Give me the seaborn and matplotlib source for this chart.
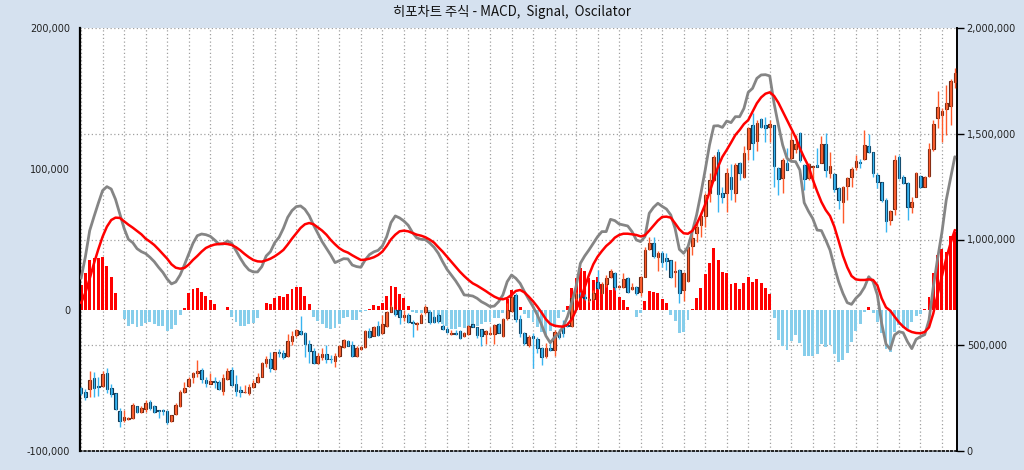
import numpy as np
import seaborn as sns
import matplotlib
matplotlib.use("Agg")
import matplotlib.pyplot as plt
from matplotlib.ticker import FuncFormatter

# candle data, thousands of won
open_k = [296, 280, 291, 343, 306, 309, 367, 296, 272, 189, 146, 150, 154, 213, 183, 197, 231, 211, 194, 191,
          187, 143, 173, 213, 279, 309, 348, 370, 383, 335, 318, 331, 324, 285, 339, 383, 315, 288, 277, 272,
          301, 324, 351, 414, 435, 386, 466, 463, 449, 521, 550, 569, 556, 506, 474, 414, 446, 458, 434, 427,
          449, 493, 521, 501, 449, 482, 490, 567, 545, 591, 559, 592, 658, 666, 666, 635, 643, 608, 600, 606,
          658, 658, 635, 643, 592, 575, 554, 558, 567, 543, 553, 599, 584, 575, 553, 551, 553, 599, 543, 627,
          660, 737, 622, 556, 499, 543, 528, 485, 450, 487, 477, 560, 588, 598, 592, 722, 740, 730, 713, 718,
          800, 745, 789, 824, 843, 777, 777, 816, 764, 774, 753, 824, 955, 982, 916, 937, 911, 903, 846, 856,
          761, 805, 969, 1029, 1068, 1111, 1218, 1281, 1415, 1218, 1221, 1294, 1221, 1360, 1297, 1426, 1540, 1464, 1568, 1540,
          1530, 1540, 1336, 1289, 1360, 1384, 1430, 1505, 1352, 1289, 1341, 1350, 1360, 1450, 1313, 1308, 1242, 1179, 1253, 1297,
          1344, 1368, 1379, 1442, 1414, 1305, 1270, 1187, 1092, 1143, 1388, 1297, 1265, 1155, 1202, 1302, 1250, 1300, 1426, 1573,
          1589, 1615, 1633, 1746]
high_k = [304, 291, 380, 372, 351, 380, 391, 317, 272, 201, 194, 160, 225, 215, 213, 241, 241, 217, 194, 197,
          194, 171, 225, 288, 326, 351, 375, 430, 391, 351, 370, 348, 335, 364, 391, 398, 359, 307, 312, 317,
          335, 370, 422, 449, 469, 469, 482, 477, 553, 569, 577, 638, 564, 525, 485, 461, 485, 501, 453, 461,
          501, 528, 525, 521, 498, 496, 572, 580, 591, 616, 643, 663, 690, 670, 669, 666, 651, 619, 611, 651,
          690, 662, 640, 651, 600, 588, 572, 572, 572, 564, 595, 599, 588, 576, 572, 587, 599, 603, 627, 698,
          748, 745, 643, 564, 548, 556, 540, 493, 509, 509, 572, 575, 619, 610, 729, 750, 752, 740, 725, 760,
          855, 800, 832, 859, 848, 785, 840, 824, 792, 780, 829, 966, 1013, 1013, 947, 947, 938, 903, 898, 859,
          846, 972, 1029, 1084, 1132, 1218, 1313, 1399, 1426, 1250, 1336, 1357, 1360, 1368, 1442, 1533, 1596, 1565, 1573, 1581,
          1565, 1541, 1344, 1384, 1431, 1510, 1494, 1510, 1357, 1360, 1347, 1431, 1489, 1502, 1415, 1313, 1250, 1253, 1297, 1341,
          1399, 1379, 1518, 1499, 1415, 1313, 1273, 1195, 1139, 1399, 1399, 1305, 1273, 1202, 1321, 1305, 1300, 1455, 1565, 1704,
          1620, 1730, 1759, 1809]
low_k = [264, 241, 253, 257, 260, 304, 272, 257, 194, 115, 138, 146, 149, 178, 178, 186, 194, 181, 157, 168,
         126, 138, 170, 209, 272, 304, 323, 351, 320, 304, 316, 296, 288, 263, 335, 307, 260, 257, 272, 264,
         296, 320, 351, 398, 375, 383, 446, 433, 446, 501, 540, 548, 446, 417, 411, 411, 430, 417, 417, 395,
         446, 485, 496, 446, 446, 477, 488, 535, 543, 543, 553, 588, 655, 640, 600, 616, 603, 540, 572, 603,
         650, 600, 605, 605, 572, 559, 548, 548, 528, 540, 548, 585, 532, 498, 506, 548, 506, 556, 540, 619,
         655, 611, 540, 501, 493, 391, 461, 406, 438, 474, 449, 530, 540, 585, 588, 715, 720, 715, 705, 712,
         765, 740, 777, 816, 761, 769, 769, 748, 761, 737, 733, 821, 950, 911, 852, 868, 856, 820, 777, 698,
         711, 800, 927, 990, 1013, 1061, 1179, 1278, 1131, 1171, 1131, 1187, 1179, 1281, 1289, 1376, 1376, 1420, 1525, 1462,
         1462, 1250, 1210, 1218, 1328, 1376, 1407, 1368, 1234, 1281, 1242, 1344, 1360, 1297, 1289, 1226, 1143, 1080, 1187, 1250,
         1329, 1336, 1376, 1407, 1297, 1242, 1179, 1037, 1068, 1116, 1286, 1262, 1092, 1124, 1199, 1242, 1247, 1297, 1420, 1525,
         1462, 1494, 1541, 1715]
close_k = [276, 253, 335, 296, 304, 365, 291, 269, 197, 142, 159, 156, 216, 183, 205, 225, 205, 186, 187, 189,
           135, 168, 216, 277, 296, 339, 367, 380, 340, 323, 329, 326, 293, 343, 380, 312, 285, 277, 280, 301,
           323, 351, 417, 435, 391, 466, 461, 446, 521, 543, 572, 553, 504, 474, 414, 449, 458, 435, 433, 449,
           496, 525, 498, 450, 485, 493, 567, 540, 584, 548, 599, 659, 682, 650, 632, 643, 611, 603, 606, 643,
           680, 611, 611, 616, 576, 565, 560, 554, 535, 556, 592, 588, 548, 545, 567, 558, 594, 559, 622, 666,
           730, 622, 559, 509, 537, 532, 485, 446, 485, 476, 564, 540, 556, 590, 722, 740, 730, 725, 718, 745,
           770, 789, 816, 852, 777, 778, 813, 753, 777, 745, 824, 950, 982, 923, 934, 895, 900, 824, 848, 745,
           840, 966, 1005, 1061, 1111, 1210, 1281, 1392, 1213, 1202, 1313, 1237, 1352, 1313, 1410, 1525, 1455, 1549, 1533, 1525,
           1544, 1347, 1284, 1376, 1330, 1470, 1450, 1376, 1284, 1355, 1347, 1344, 1450, 1329, 1347, 1237, 1187, 1250, 1289, 1332,
           1371, 1363, 1447, 1415, 1313, 1273, 1187, 1089, 1136, 1376, 1289, 1265, 1152, 1179, 1313, 1250, 1294, 1426, 1546, 1625,
           1607, 1644, 1751, 1786]

# MACD, signal and oscillator, thousands
macd_k = [22.5, 37.8, 56.3, 66.2, 75.7, 84.7, 87.5, 85.8, 78.5, 68.1, 57.9, 50.1, 47.8, 43.5, 41.4, 40, 37.4, 34.3, 30.3, 26.7,
          22, 18.5, 19.9, 24.8, 31.9, 39.5, 47.3, 52.7, 53.9, 53.4, 52.3, 49.7, 46.8, 46.8, 49, 47.3, 42.1, 36.7, 31.9, 28.4,
          27, 27, 30.8, 38.3, 41.4, 47.8, 51.6, 57.9, 65.7, 70.5, 73.3, 73.8, 71.4, 66.9, 60.3, 54.4, 48.5, 43.8, 39, 33.6,
          35, 36.4, 36.2, 31.9, 30.8, 30.3, 35.5, 39.3, 41.2, 42.3, 45.4, 52, 62, 66.7, 65.3, 63.1, 60.1, 54.9, 51.1, 50.1,
          49.9, 47.5, 44.5, 40.2, 34.3, 28.9, 24.8, 20.8, 16.1, 10.7, 10.4, 9.9, 8.3, 5.9, 4.3, 2.4, 2.8, 5.9, 10.7, 20.1,
          24.8, 22.5, 18.9, 13, 7.6, 2.4, -3.5, -10.6, -18.4, -23.2, -19.4, -16.5, -11.8, -4.7, 5.2, 16.6, 33.1, 38.3, 42.6, 47.3,
          52, 55.6, 55.6, 64.3, 63.4, 61, 60.3, 59.6, 55.6, 49.7, 48.5, 52, 68.6, 72.8, 75.7, 73.5, 71.6, 67.4, 57.9, 43,
          40.2, 44.9, 55.6, 67.4, 82.7, 99.3, 117, 130.5, 130.7, 129.5, 134, 132.9, 137.1, 137.1, 143, 154.4, 157.2, 164.3, 166.7, 166.9,
          166, 146.6, 131.2, 117, 107.6, 105.4, 105.2, 99.3, 76.1, 70, 64.8, 56.7, 56.3, 49.7, 42.5, 30.7, 20.1, 11.8, 5.2, 4,
          8.3, 11.3, 16.1, 23.6, 20.1, 10.7, -9.5, -24.1, -27.9, -17.7, -15.4, -16.1, -22.5, -27.4, -20.8, -18.9, -17.5, -7.1, 16.6, 36.6,
          55.1, 78, 93.4, 108.7]
signal_k = [5, 12.3, 22.2, 33.1, 43, 52, 59.1, 63.8, 65.5, 65.3, 62.9, 60.5, 58.4, 56, 53.7, 50.6, 48.5, 46.1, 43, 39.7,
            36.4, 32.4, 30, 29.3, 29.8, 32.2, 35.5, 38.3, 41.4, 44, 45.4, 46.4, 46.8, 47.1, 46.8, 46.1, 44.5, 42.3, 39.7, 37.4,
            35.5, 34.5, 34.3, 35.2, 36.4, 38.1, 40.2, 42.6, 46.4, 50.6, 54.4, 58.2, 60.8, 61.7, 60.8, 58.6, 56.3, 53.4, 49.7, 46.6,
            43.8, 41.9, 40.7, 38.8, 37.1, 35.5, 35.7, 36.4, 37.4, 39, 41.4, 45.4, 50.1, 53.4, 55.8, 56.3, 55.8, 54.6, 53.4, 52.7,
            51.6, 49.9, 47.8, 44.5, 41.4, 37.8, 34.3, 30.8, 27.2, 24.1, 21.3, 18.9, 17.3, 15.4, 13.5, 11.4, 9.5, 8.1, 7.6, 8.5,
            10.7, 13.5, 14.2, 12.5, 9.5, 6.2, 2.4, -1.9, -6.6, -9.9, -11.1, -11.6, -11.8, -10.4, -6.6, 0, 7.1, 16.1, 24.8, 32.4,
            37.8, 41.8, 45.4, 48, 51.3, 53.2, 54.1, 54.1, 53.7, 53.2, 52.2, 53, 56.3, 59.8, 63.4, 66, 66.2, 65.5, 61.5, 57.2,
            54.4, 54.1, 56.1, 60.8, 67.4, 74.9, 83.4, 92.7, 101.7, 108.7, 113.5, 118.7, 124.1, 127.7, 131.9, 134.7, 140.7, 146.6, 150.8, 153.4,
            154.4, 151.8, 147, 140.9, 134.7, 128.6, 122.5, 114.7, 108, 102, 92.4, 84.2, 76.6, 70.9, 66.7, 59.1, 49, 38.5, 30.3, 24.1,
            21.7, 21.3, 21.3, 21.7, 21.3, 17.5, 8.3, 1.9, -0.5, -4.7, -8.7, -11.8, -14.2, -15.6, -16.3, -16.5, -15.6, -12.3, -2.4, 11.1,
            24.1, 36.6, 47.3, 56.7]
osc_k = [17.7, 26, 35.5, 37.1, 36.7, 37.8, 31.2, 23.7, 12.3, 0.3, -6.4, -11.1, -9.9, -11.8, -11.3, -9.5, -8.3, -9.9, -11.3, -11.1,
         -14.9, -13.5, -10.6, -3.5, 1.2, 11.8, 14.7, 15.4, 12.5, 9.9, 7.1, 4.3, 0, 0, 2.1, -4.7, -8.3, -11.1, -11.1, -9.9,
         -9.5, -5.4, 0, 5.2, 4.3, 8.8, 10.2, 9.5, 11.1, 14.9, 16.6, 16.1, 10.2, 4.3, -4.7, -7.6, -9.9, -12.5, -13.5, -13,
         -9.9, -5.9, -4.7, -7.1, -7.1, -1.2, -0.5, 0.5, 3.5, 2.8, 4.7, 9.9, 17, 16.1, 11.3, 8.3, 2.8, -1.4, -1.9, -2.4,
         -2.4, -3.5, -5.9, -7.6, -9.9, -11.3, -13.5, -13.5, -11.8, -12.5, -11.8, -11.3, -11.3, -9.9, -8.7, -8.3, -5.9, -5.9, -1.9, 7.6,
         14.2, 10.6, 2.4, -2.5, -5.5, -8.5, -12, -15.4, -17.7, -15, -11.8, -6, -1.5, 2.8, 15.4, 22.7, 30, 27.4, 23, 21.3,
         23.6, 18.4, 18.9, 14.2, 16, 9.5, 7.1, 2.4, 0, -4.7, -1.9, 6.6, 13.5, 12.5, 11.8, 7.6, 4.7, -3.5, -7.8, -16.1,
         -15.4, -7.1, 0.7, 8.7, 15.4, 25.5, 33.6, 43.7, 35.5, 27, 26, 18.4, 19.4, 15.1, 18.9, 23.4, 20.1, 22, 19.4, 15.6,
         11.3, -5.4, -21.3, -25.3, -28.4, -22, -18, -23.4, -32.4, -32.4, -32.4, -31.4, -24.3, -26, -24.8, -31.2, -36.6, -35.5, -30.3, -22.5,
         -14.7, -9.9, -1.2, 2.4, -2.4, -8.3, -16.5, -27.7, -29.5, -15.4, -10.6, -13, -13.7, -8.3, -4.3, -3.1, 1, 9.5, 26, 39,
         43.3, 41.4, 52.5, 55.1]

title = "히포차트 주식 - MACD,  Signal,  Oscilator"

sns.set_style("white")
plt.rcParams['font.family'] = ['DejaVu Sans', 'Noto Sans CJK KR']

idx = np.arange(len(open_k))
o = np.array(open_k) * 1000.0
h = np.array(high_k) * 1000.0
l = np.array(low_k) * 1000.0
c = np.array(close_k) * 1000.0
macd = np.array(macd_k) * 1000.0
signal = np.array(signal_k) * 1000.0
osc = np.array(osc_k) * 1000.0

fig = plt.figure(figsize=(10.24, 4.70), dpi=100)
fig.patch.set_facecolor("#D5E1EF")
rect = [80 / 1024, 1 - 451 / 470, 877 / 1024, 423 / 470]

# price axis (right) carries the grid
ax0 = fig.add_axes(rect)
ax0.set_facecolor("white")
ax0.set_ylim(0, 2000000)
ax0.set_xlim(-0.25, 203.5)
ax0.yaxis.tick_right()
ax0.set_yticks([0, 500000, 1000000, 1500000, 2000000])
ax0.yaxis.set_major_formatter(FuncFormatter(lambda v, p: f"{v:,.0f}"))
ax0.set_xticks(np.arange(0, 204, 5))
ax0.tick_params(axis="x", labelbottom=False, length=4, width=1, color="black", direction="out")
ax0.tick_params(axis="y", labelsize=7, length=5, width=1, color="black", direction="out", pad=2,
                labelcolor="#222222")
ax0.grid(True, color="#A0A0A0", linestyle=(0, (1, 2)), linewidth=0.9)
for side in ["left", "top"]:
    ax0.spines[side].set_visible(False)
ax0.spines["right"].set_color("black")
ax0.spines["right"].set_linewidth(1.4)
ax0.spines["bottom"].set_color("black")
ax0.spines["bottom"].set_linestyle((0, (1, 1.5)))
ax0.spines["bottom"].set_linewidth(1.2)

# oscillator axis (left)
axo = fig.add_axes(rect, sharex=ax0)
axo.patch.set_visible(False)
axo.set_ylim(-100000, 200000)
axo.set_yticks([-100000, 0, 100000, 200000])
axo.yaxis.set_major_formatter(FuncFormatter(lambda v, p: f"{v:,.0f}"))
axo.tick_params(axis="y", labelsize=7, length=5, width=1, color="black", direction="out", pad=2,
                labelcolor="#222222")
axo.tick_params(axis="x", bottom=False, labelbottom=False)
for side in ["right", "top", "bottom"]:
    axo.spines[side].set_visible(False)
axo.spines["left"].set_color("black")
axo.spines["left"].set_linewidth(1.6)
osc_colors = np.where(osc >= 0, "#FF0000", "#87CEEB")
axo.bar(idx, osc, width=0.68, color=osc_colors, linewidth=0)

# candles
axk = fig.add_axes(rect, sharex=ax0, sharey=ax0)
axk.set_axis_off()
up = c >= o
wick_colors = np.where(up, "#FF5A2A", "#38B4F0")
axk.vlines(idx, l, h, colors=wick_colors, linewidth=1.0)
body_lo = np.minimum(o, c)
body_h = np.maximum(np.abs(c - o), 4000)
axk.bar(idx[up], body_h[up], bottom=body_lo[up], width=0.62, color="#F46535",
        edgecolor="#6B2410", linewidth=0.8)
axk.bar(idx[~up], body_h[~up], bottom=body_lo[~up], width=0.62, color="#2E9FDB",
        edgecolor="#0D3550", linewidth=0.8)

# MACD and signal lines
axm = fig.add_axes(rect, sharex=ax0, sharey=axo)
axm.set_axis_off()
sns.lineplot(x=idx, y=macd, ax=axm, color="#858585", linewidth=2.0)
sns.lineplot(x=idx, y=signal, ax=axm, color="#FF0000", linewidth=1.8)
axm.set_xlim(-0.25, 203.5)
axm.set_ylim(-100000, 200000)

fig.text(0.5, 1 - 12 / 470, title, ha="center", va="center", fontsize=9.6,
         family=["Noto Sans CJK KR", "DejaVu Sans"], color="#111111")

fig.savefig("out.png", dpi=100, facecolor=fig.get_facecolor())
